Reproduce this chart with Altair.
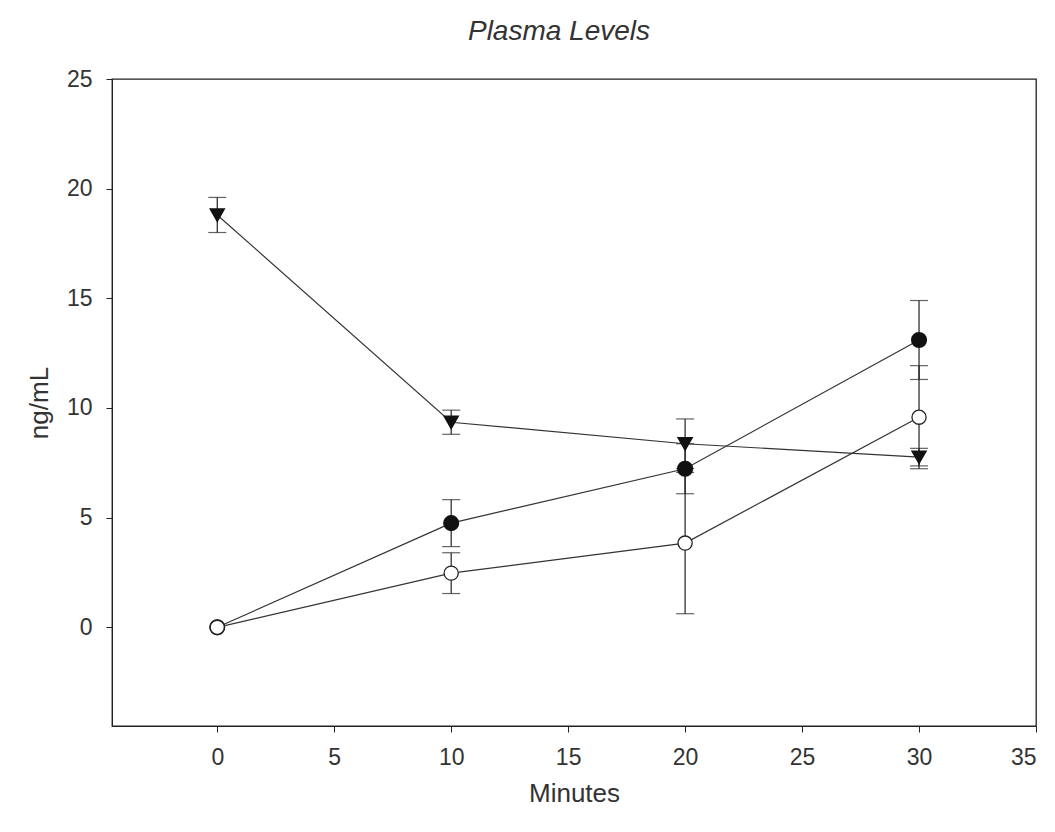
import altair as alt
import pandas as pd

minutes = [0, 10, 20, 30]
series_names = ["filled", "open", "triangle"]
filled_vals = [0.0, 4.75, 7.23, 13.1]
filled_err = [0.0, 1.07, 1.14, 1.8]
open_vals = [0.0, 2.47, 3.84, 9.58]
open_err = [0.0, 0.93, 3.22, 2.35]
tri_vals = [18.8, 9.35, 8.37, 7.76]
tri_err = [0.8, 0.55, 1.13, 0.4]

rows = []
for name, vals, errs in [("filled", filled_vals, filled_err),
                         ("open", open_vals, open_err),
                         ("triangle", tri_vals, tri_err)]:
    for m, v, e in zip(minutes, vals, errs):
        rows.append({"series": name, "min": m, "val": v, "err": e,
                     "lo": v - e, "hi": v + e})
df = pd.DataFrame(rows)
df_err = df[df["err"] > 0]

FONT = "Liberation Sans"
xs = alt.Scale(domain=[-4.5, 35], nice=False, zero=False)
ys = alt.Scale(domain=[-4.5, 25], nice=False, zero=False)

xenc = alt.X("min:Q", scale=xs, title="Minutes",
             axis=alt.Axis(values=[0, 5, 10, 15, 20, 25, 30, 35], grid=False,
                           tickSize=6, labelPadding=14, titlePadding=11,
                           labelFontSize=23, titleFontSize=26,
                           labelFont=FONT, titleFont=FONT, titleFontWeight="normal",
                           labelColor="#333", titleColor="#333",
                           domainColor="#222", tickColor="#222", labelFlush=True))
yenc = alt.Y("val:Q", scale=ys, title="ng/mL",
             axis=alt.Axis(values=[0, 5, 10, 15, 20, 25], grid=False,
                           tickSize=6, labelPadding=14, titlePadding=14,
                           labelFontSize=23, titleFontSize=26,
                           labelFont=FONT, titleFont=FONT, titleFontWeight="normal",
                           labelColor="#333", titleColor="#333",
                           domainColor="#222", tickColor="#222", labelFlush=False))

base = alt.Chart(df)

lines = base.mark_line(color="#333", strokeWidth=1.2).encode(
    x=xenc, y=yenc, detail="series:N")

rules = alt.Chart(df_err).mark_rule(color="#222", strokeWidth=1.2).encode(
    x="min:Q", y="lo:Q", y2="hi:Q")
caps_hi = alt.Chart(df_err).mark_tick(color="#222", orient="horizontal",
                                      size=18, thickness=1.2).encode(
    x="min:Q", y="hi:Q")
caps_lo = alt.Chart(df_err).mark_tick(color="#222", orient="horizontal",
                                      size=18, thickness=1.2).encode(
    x="min:Q", y="lo:Q")

filled_pts = alt.Chart(df[df["series"] == "filled"]).mark_point(
    shape="circle", filled=True, fill="#111", stroke="#111", size=200, opacity=1
).encode(x="min:Q", y="val:Q")
open_pts = alt.Chart(df[df["series"] == "open"]).mark_point(
    shape="circle", filled=True, fill="white", stroke="#222", strokeWidth=1.3,
    size=200, opacity=1
).encode(x="min:Q", y="val:Q")
tri_pts = alt.Chart(df[df["series"] == "triangle"]).mark_point(
    shape="triangle-down", filled=True, fill="#111", stroke="#111", size=170, opacity=1
).encode(x="min:Q", y="val:Q")

chart = alt.layer(lines, rules, caps_hi, caps_lo, filled_pts, open_pts, tri_pts).properties(
    width=924, height=647,
    background="white",
    title=alt.TitleParams("Plasma Levels", fontSize=28, font=FONT, fontStyle="italic",
                          fontWeight="normal", color="#333", anchor="middle",
                          offset=22, dx=-15),
    autosize=alt.AutoSizeParams(type="none"),
    padding={"left": 104, "top": 71, "right": 10, "bottom": 90},
).configure_view(stroke="#222", strokeWidth=1.3)

chart.save("out.html", embed_options={"renderer": "svg", "actions": False})
